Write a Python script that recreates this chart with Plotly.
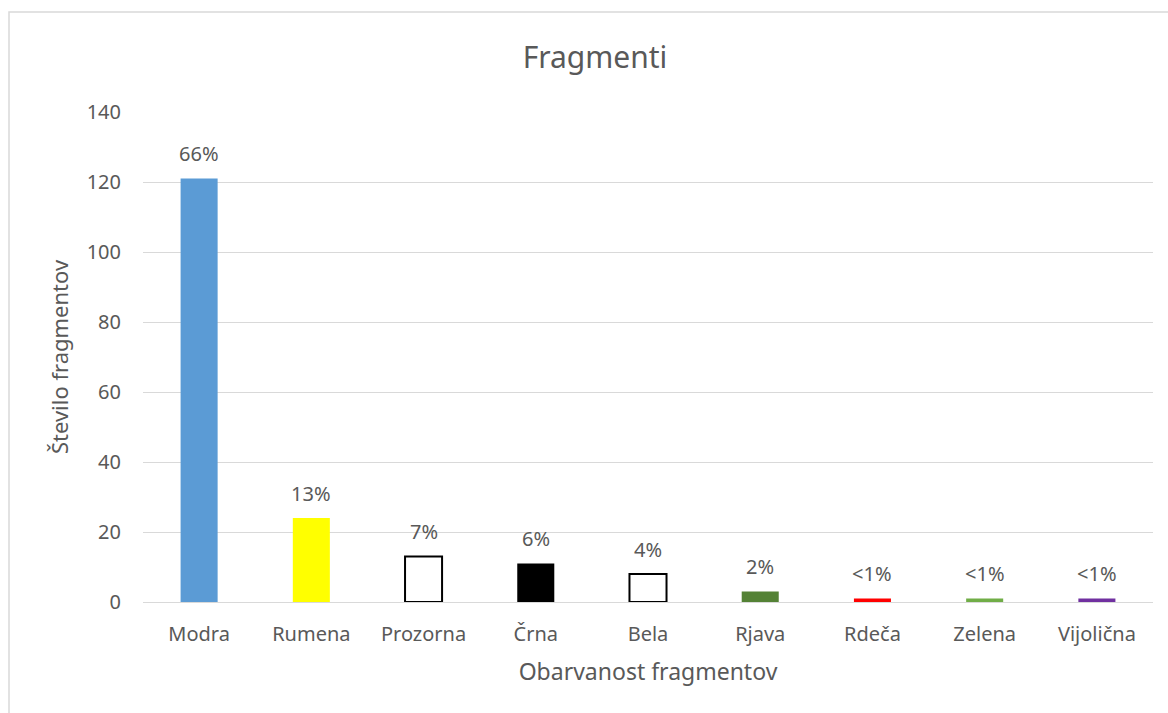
import plotly.graph_objects as go

categories = ["Modra", "Rumena", "Prozorna", "Črna", "Bela", "Rjava", "Rdeča", "Zelena", "Vijolična"]
counts = [121, 24, 13, 11, 8, 3, 1, 1, 1]
labels = ["66%", "13%", "7%", "6%", "4%", "2%", "<1%", "<1%", "<1%"]
fill_colors = ["#5b9bd5", "#ffff00", "#ffffff", "#000000", "#ffffff", "#548235", "#ff0000", "#70ad47", "#7030a0"]
line_widths = [0, 0, 2, 0, 2, 0, 0, 0, 0]

FONT = "Noto Sans"
GREY = "#595959"

fig = go.Figure(go.Bar(
    x=categories, y=counts,
    cliponaxis=False,
    marker=dict(color=fill_colors, line=dict(color="#000000", width=line_widths)),
    width=0.33,
))

for c, v, t in zip(categories, counts, labels):
    fig.add_annotation(x=c, y=v, text=t, showarrow=False, yanchor="middle", yshift=25,
                       font=dict(family=FONT, size=20, color=GREY))

fig.update_layout(
    width=1168, height=713,
    margin=dict(l=143, r=15, t=112, b=111),
    paper_bgcolor="white", plot_bgcolor="white",
    title=dict(text="Fragmenti", x=595 / 1168, xanchor="center", y=1 - 57 / 713, yanchor="middle",
               font=dict(family=FONT, size=30, color=GREY)),
    showlegend=False,
)
fig.update_xaxes(
    title=dict(text="Obarvanost fragmentov", font=dict(family=FONT, size=23, color=GREY), standoff=17),
    tickfont=dict(family=FONT, size=20, color=GREY),
    showline=True, linecolor="#d9d9d9", linewidth=1,
    ticks="outside", ticklen=14, tickcolor="rgba(0,0,0,0)",
)
fig.update_yaxes(
    title=dict(text="Število fragmentov", font=dict(family=FONT, size=22, color=GREY), standoff=11),
    tickfont=dict(family=FONT, size=20, color=GREY),
    range=[0, 140], dtick=20, gridcolor="#d9d9d9", gridwidth=1,
    zeroline=False,
    ticks="outside", ticklen=17, tickcolor="rgba(0,0,0,0)",
)
fig.add_shape(type="rect", xref="paper", yref="paper",
              x0=(9 - 143) / 1010, x1=1.1, y0=-0.5, y1=(602 - 12) / 490,
              line=dict(color="#d9d9d9", width=1.5), fillcolor="rgba(0,0,0,0)", layer="below")

fig.write_html("out.html")
